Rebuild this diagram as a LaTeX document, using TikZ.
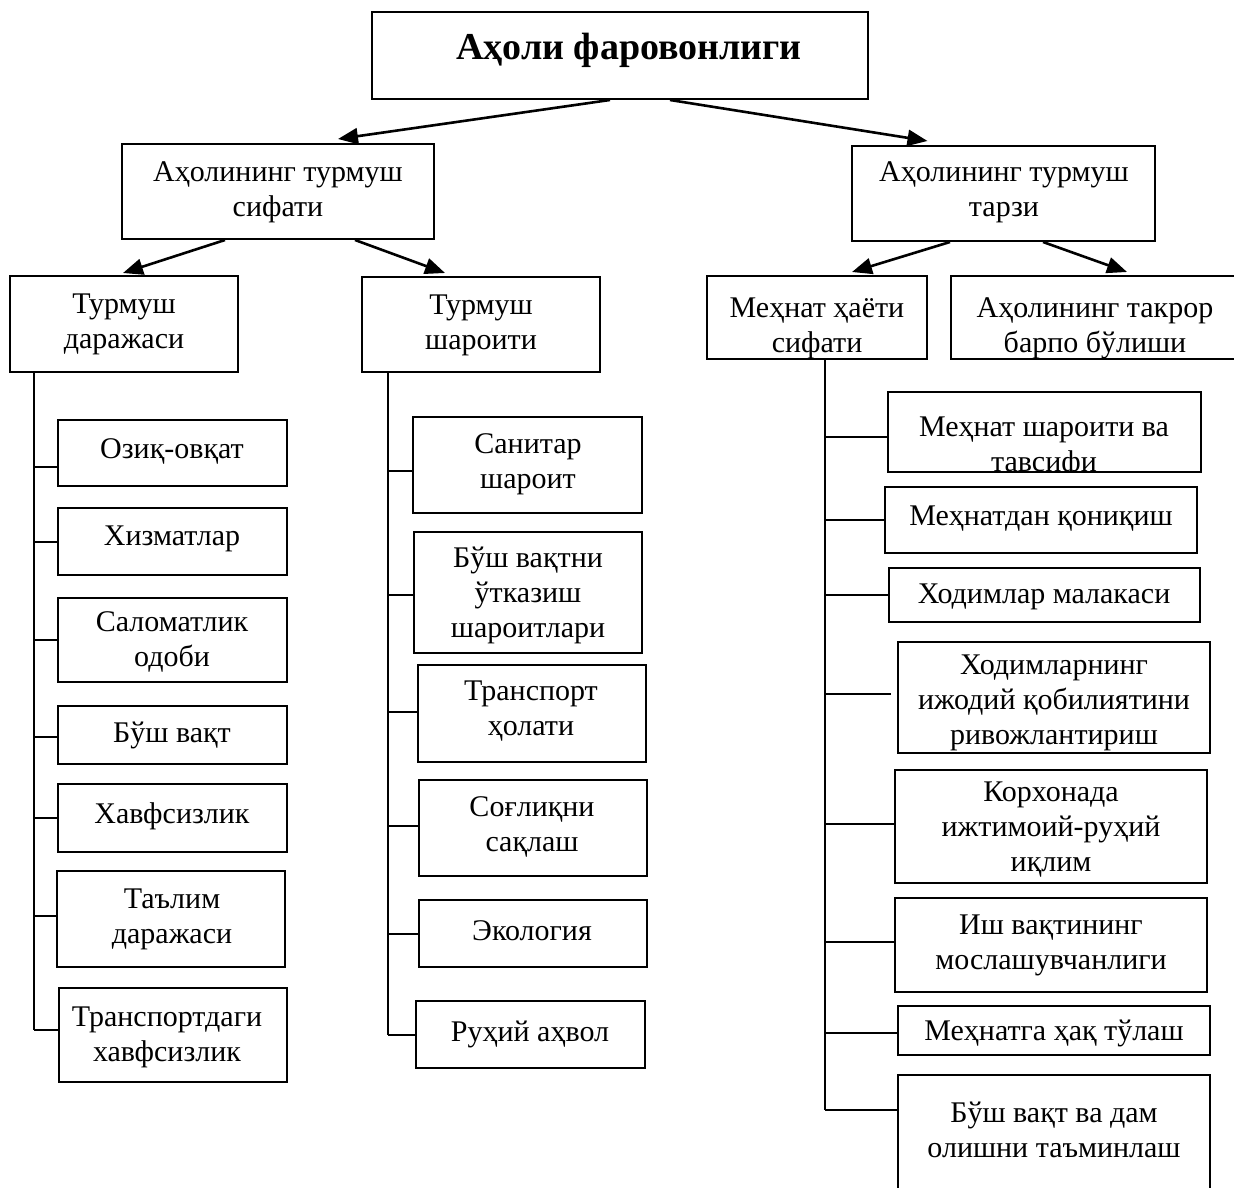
\documentclass[tikz,border=0pt]{standalone}
\usepackage{fontspec}
\setmainfont{Liberation Serif}
\usetikzlibrary{arrows.meta}
\tikzset{
  box/.style={draw, line width=1pt, inner sep=0pt},
  txt/.style={align=center, inner sep=0pt, font=\fontsize{15}{17.5}\selectfont},
  arr/.style={line width=1.3pt, -{Triangle[length=10pt,width=8pt]}},
  conn/.style={line width=1pt},
}
\newcommand\bx[8]{%
  \node[box, minimum width={(#4-#2)*0.5pt}, minimum height={(#5-#3)*0.5pt}] (#1) at ({(#2+#4)/2},{(#3+#5)/2}) {};
  \begin{scope}
    \clip (#2,#3) rectangle (#4,#5);
    \node[txt] (#1-t) at (#6,#7) {#8};
  \end{scope}
}
\newcommand\br[3]{%
  \coordinate (#1b) at ([yshift=#3]#1.west);
  \draw[conn] (#1b -| #2) -- (#1b);
}
\begin{document}
\begin{tikzpicture}[x=0.5pt,y=-0.5pt]
\useasboundingbox (0,0) rectangle (1234,1187);
\clip (0,0) rectangle (1234,1187);
\fill[white] (0,0) rectangle (1234,1187);

% top levels
\bx{top}{372}{12}{868}{99}{629}{50}{\bfseries\fontsize{19}{22}\selectfont Аҳоли фаровонлиги}
\bx{S1}{122}{144}{434}{239}{278}{192}{Аҳолининг турмуш\\сифати}
\bx{S2}{852}{146}{1155}{241}{1004}{192}{Аҳолининг турмуш\\тарзи}
\bx{L0}{10}{276}{238}{372}{124}{324}{Турмуш\\даражаси}
\bx{M0}{362}{277}{600}{372}{481}{325}{Турмуш\\шароити}
\bx{R0}{707}{276}{927}{359}{817}{328}{Меҳнат ҳаёти\\сифати}
\bx{Rb}{951}{276}{1250}{359}{1095}{328}{Аҳолининг такрор\\барпо бўлиши}

% left column
\bx{L1}{58}{420}{287}{486}{172}{451}{Озиқ-овқат}
\bx{L2}{58}{508}{287}{575}{172}{539}{Хизматлар}
\bx{L3}{58}{598}{287}{682}{172}{642}{Саломатлик\\одоби}
\bx{L4}{58}{706}{287}{764}{172}{735}{Бўш вақт}
\bx{L5}{58}{784}{287}{852}{172}{816}{Хавфсизлик}
\bx{L6}{57}{871}{285}{967}{172}{919}{Таълим\\даражаси}
\bx{L7}{59}{988}{287}{1082}{167}{1037}{Транспортдаги\\хавфсизлик}

% middle column
\bx{M1}{413}{417}{642}{513}{528}{464}{Санитар\\шароит}
\bx{M2}{414}{532}{642}{653}{528}{595}{Бўш вақтни\\ўтказиш\\шароитлари}
\bx{M3}{418}{665}{646}{762}{531}{711}{Транспорт\\ҳолати}
\bx{M4}{419}{780}{647}{876}{532}{827}{Соғлиқни\\сақлаш}
\bx{M5}{419}{900}{647}{967}{532}{931}{Экология}
\bx{M6}{416}{1001}{645}{1068}{530}{1034}{Руҳий аҳвол}

% right column
\bx{R1}{888}{392}{1201}{472}{1044}{447}{Меҳнат шароити ва\\тавсифи}
\bx{R2}{885}{487}{1197}{553}{1041}{519}{Меҳнатдан қониқиш}
\bx{R3}{889}{568}{1200}{622}{1044}{597}{Ходимлар малакаси}
\bx{R4}{898}{642}{1210}{753}{1054}{703}{Ходимларнинг\\ижодий қобилиятини\\ривожлантириш}
\bx{R5}{895}{770}{1207}{883}{1051}{830}{Корхонада\\ижтимоий-руҳий\\иқлим}
\bx{R6}{895}{898}{1207}{992}{1051}{945}{Иш вақтининг\\мослашувчанлиги}
\bx{R7}{898}{1006}{1210}{1055}{1054}{1033}{Меҳнатга ҳақ тўлаш}
\bx{R8}{898}{1075}{1210}{1200}{1054}{1130}{Бўш вақт ва дам\\олишни таъминлаш}

% arrows
\draw[arr] ([xshift=-5pt]top.south) -- ([xshift=30pt,yshift=2pt]S1.north);
\draw[arr] ([xshift=25pt]top.south) -- ([xshift=-38pt,yshift=2pt]S2.north);
\draw[arr] ([xshift=-26.5pt]S1.south) -- ([xshift=-0.5pt,yshift=1pt]L0.north);
\draw[arr] ([xshift=38.5pt]S1.south) -- ([xshift=-18pt,yshift=1.5pt]M0.north);
\draw[arr] ([xshift=-26.75pt]S2.south) -- ([xshift=17.5pt,yshift=1.5pt]R0.north);
\draw[arr] ([xshift=19.75pt]S2.south) -- ([xshift=13.25pt,yshift=1.5pt]Rb.north);

% left spine
\coordinate (Ltop) at ([xshift=12.5pt]L0.south west);
\br{L1}{Ltop}{-7pt}
\br{L2}{Ltop}{0pt}
\br{L3}{Ltop}{0pt}
\br{L4}{Ltop}{-1pt}
\br{L5}{Ltop}{0pt}
\br{L6}{Ltop}{1.5pt}
\br{L7}{Ltop}{2.5pt}
\draw[conn] (Ltop) -- (L7b -| Ltop);

% middle spine
\coordinate (Mtop) at ([xshift=13.5pt]M0.south west);
\br{M1}{Mtop}{-3pt}
\br{M2}{Mtop}{-1pt}
\br{M3}{Mtop}{1pt}
\br{M4}{Mtop}{1pt}
\br{M5}{Mtop}{0pt}
\br{M6}{Mtop}{0pt}
\draw[conn] (Mtop) -- (M6b -| Mtop);

% right spine
\coordinate (Rtop) at ([xshift=59.5pt]R0.south west);
\br{R1}{Rtop}{-2.5pt}
\br{R2}{Rtop}{0pt}
\br{R3}{Rtop}{0pt}
\coordinate (R4b) at ([yshift=2pt]R4.west);
\draw[conn] (R4b -| Rtop) -- ([xshift=-3pt]R4b);
\br{R5}{Rtop}{1.5pt}
\br{R6}{Rtop}{1.5pt}
\br{R7}{Rtop}{-1pt}
\br{R8}{Rtop}{13.75pt}
\draw[conn] (Rtop) -- (R8b -| Rtop);
\end{tikzpicture}
\end{document}
